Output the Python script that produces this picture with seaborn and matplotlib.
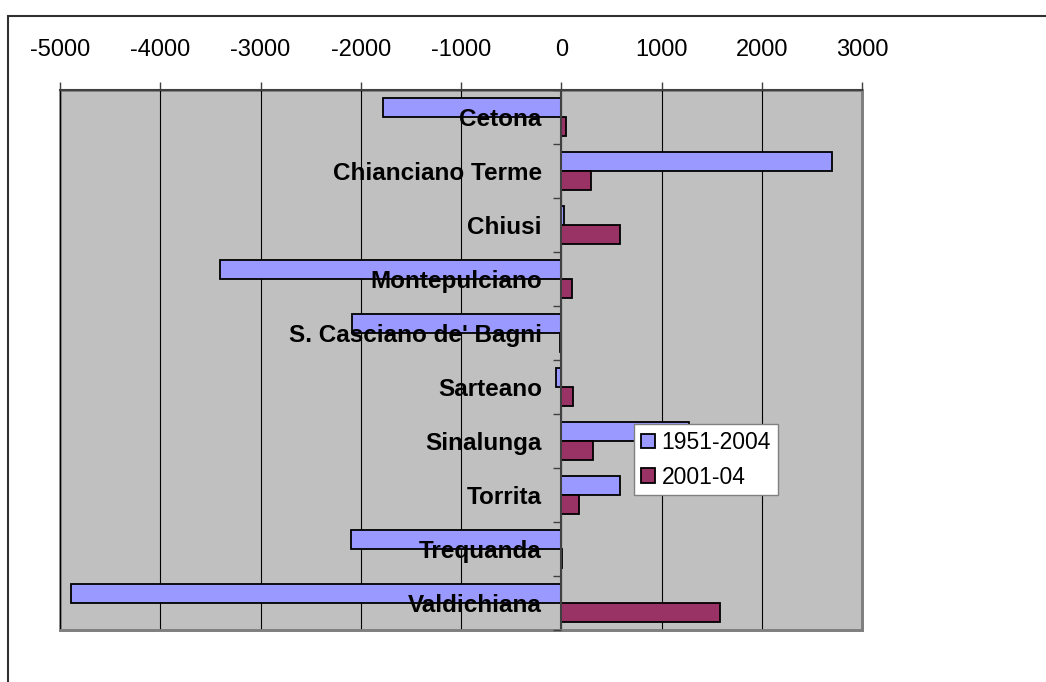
import matplotlib
matplotlib.use('Agg')
import matplotlib.pyplot as plt
from matplotlib.patches import Rectangle
from matplotlib.ticker import FixedLocator, MultipleLocator
import seaborn as sns
import pandas as pd

comuni = ['Cetona', 'Chianciano Terme', 'Chiusi', 'Montepulciano',
          "S. Casciano de' Bagni", 'Sarteano', 'Sinalunga', 'Torrita',
          'Trequanda', 'Valdichiana']
periodi = ['1951-2004', '2001-04']
var_1951_2004 = [-1780, 2700, 30, -3400, -2090, -50, 1270, 590, -2100, -4890]
var_2001_04 = [45, 300, 590, 105, -15, 120, 320, 175, 10, 1580]
colori = ['#9999FF', '#993366']

df = pd.DataFrame({
    'comune': comuni * 2,
    'periodo': [periodi[0]] * len(comuni) + [periodi[1]] * len(comuni),
    'valore': var_1951_2004 + var_2001_04,
})

sns.set_theme(style='white')
plt.rcParams['font.family'] = ['Liberation Sans', 'DejaVu Sans']
plt.rcParams['axes.unicode_minus'] = False
for key in ['text.color', 'axes.labelcolor', 'xtick.labelcolor', 'ytick.labelcolor']:
    plt.rcParams[key] = 'black'

fig = plt.figure(figsize=(10.46, 6.82), dpi=100)
ax = fig.add_axes([60 / 1046, 1 - 630 / 682, 802 / 1046, 540 / 682])

sns.barplot(data=df, y='comune', x='valore', hue='periodo', orient='h',
            order=comuni, hue_order=periodi, palette=colori, saturation=1,
            width=0.71, edgecolor='black', linewidth=1.3, ax=ax)

ax.set_xlim(-5000, 3000)
ax.set_ylim(len(comuni) - 0.5, -0.5)
ax.set_xlabel('')
ax.set_ylabel('')

# background and border of the plot area
ax.set_facecolor('#C0C0C0')
ax.patch.set_edgecolor('#808080')
ax.patch.set_linewidth(2)

# x axis on top
ax.xaxis.tick_top()
ax.xaxis.set_major_locator(MultipleLocator(1000))
ax.tick_params(axis='x', which='major', direction='out', length=6, width=1,
               color='#404040', pad=15, labelsize=17, labelcolor='black')
ax.grid(axis='x', color='black', linewidth=0.8)
ax.grid(axis='y', visible=False)

# y axis at zero, labels over the bars
ax.spines['left'].set_position(('data', 0))
ax.yaxis.set_minor_locator(FixedLocator([i + 0.5 for i in range(-1, len(comuni))]))
ax.tick_params(axis='y', which='major', length=0, pad=14, labelsize=17.5,
               labelcolor='black')
ax.tick_params(axis='y', which='minor', direction='out', length=6, width=1,
               color='#404040', left=True)
for lab in ax.get_yticklabels():
    lab.set_fontweight('bold')

for side in ['top', 'left']:
    ax.spines[side].set_color('#404040')
    ax.spines[side].set_linewidth(1.5)
for side in ['right', 'bottom']:
    ax.spines[side].set_color('#808080')
    ax.spines[side].set_linewidth(2)

ax.set_axisbelow(True)
ax.yaxis.set_zorder(3)

# legend
handles, labels = ax.get_legend_handles_labels()
leg = ax.legend(handles, labels, loc='upper left', bbox_to_anchor=(0.716, 0.381),
                borderaxespad=0, fontsize=16.5, frameon=True, fancybox=False,
                framealpha=1, edgecolor='#808080', handlelength=0.6,
                handleheight=0.6, handletextpad=0.3, labelspacing=0.5,
                borderpad=0.3)
leg.get_frame().set_linewidth(1)
for t in leg.get_texts():
    t.set_color('black')

# chart frame
fig.patches.append(Rectangle((8 / 1046, -0.1), 1.2, 1.1 - 16 / 682,
                             transform=fig.transFigure, fill=False,
                             edgecolor='#303030', linewidth=1.5))

fig.savefig('out.png', dpi=100)
